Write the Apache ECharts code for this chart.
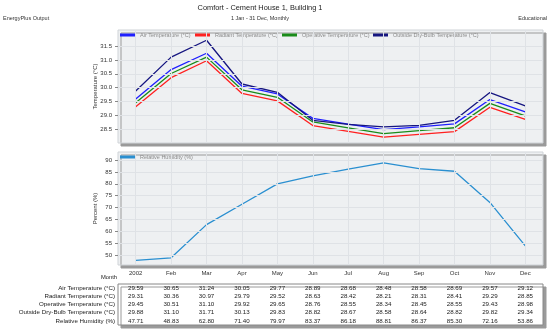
<!DOCTYPE html>
<html><head><meta charset="utf-8">
<script src="https://cdn.jsdelivr.net/npm/echarts@6/dist/echarts.min.js"></script>
<style>html,body{margin:0;padding:0;background:#fff}#c{width:550px;height:336px}</style>
</head><body><div id="c"></div>
<script>
const months = ['2002','Feb','Mar','Apr','May','Jun','Jul','Aug','Sep','Oct','Nov','Dec'];
const airTemp = [29.59,30.65,31.24,30.05,29.77,28.89,28.68,28.48,28.58,28.69,29.57,29.12];
const radiantTemp = [29.31,30.36,30.97,29.79,29.52,28.63,28.42,28.21,28.31,28.41,29.29,28.85];
const operativeTemp = [29.45,30.51,31.10,29.92,29.65,28.76,28.55,28.34,28.45,28.55,29.43,28.98];
const outsideTemp = [29.88,31.10,31.71,30.13,29.83,28.82,28.67,28.58,28.64,28.82,29.82,29.34];
const relHumidity = [47.71,48.83,62.80,71.40,79.97,83.37,86.18,88.81,86.37,85.30,72.16,53.86];
const tempTicks = [28.5,29.0,29.5,30.0,30.5,31.0,31.5];
const rhTicks = [50,55,60,65,70,75,80,85,90];
const tempSeriesNames = ['Air Temperature (°C)','Radiant Temperature (°C)','Operative Temperature (°C)','Outside Dry-Bulb Temperature (°C)'];
const rhName = 'Relative Humidity (%)';

const FONT = 'Liberation Sans, Arial, sans-serif';
const tempColors = ['#1f1fff','#ff2020','#1a8c1a','#161680'];
const rhColor = '#2a8fd0';

const tableRows = [
  [tempSeriesNames[0], airTemp],
  [tempSeriesNames[1], radiantTemp],
  [tempSeriesNames[2], operativeTemp],
  [tempSeriesNames[3], outsideTemp],
  [rhName, relHumidity]
];

const gridCommon = {show:true, left:118, width:425, backgroundColor:'#eef0f2', borderColor:'#cfd3d7', borderWidth:1,
  shadowColor:'#9a9a9a', shadowBlur:0, shadowOffsetX:3, shadowOffsetY:3};
const tableTop = 284, tableH = 41;
const grids = [
  Object.assign({}, gridCommon, {top:30, height:113}),
  Object.assign({}, gridCommon, {top:152, height:113}),
  {show:true, left:118, top:tableTop, width:425, height:tableH, backgroundColor:'#ffffff', borderColor:'#888', borderWidth:1,
   shadowColor:'#9a9a9a', shadowBlur:0, shadowOffsetX:3, shadowOffsetY:3}
];

const xAxes = [
  {type:'category', gridIndex:0, data:months, boundaryGap:true, axisLine:{show:false}, axisTick:{show:false}, axisLabel:{show:false}, splitLine:{show:false}},
  {type:'category', gridIndex:1, data:months, boundaryGap:true, axisLine:{show:false}, axisTick:{show:false},
   axisLabel:{show:true, interval:0, fontSize:6, color:'#333', fontFamily:FONT, margin:5}, splitLine:{show:false}}
];
const rowStep = tableH / tableRows.length;
tableRows.forEach((r, i) => {
  const center = tableTop + rowStep * (i + 0.5);
  xAxes.push({type:'category', gridIndex:2, position:'bottom', offset:center - (tableTop + tableH),
    data:r[1].map(v => v.toFixed(2)), boundaryGap:true,
    axisLine:{show:false}, axisTick:{show:false}, splitLine:{show:false},
    axisLabel:{show:true, interval:0, fontSize:6.2, color:'#222', fontFamily:FONT, margin:0, verticalAlign:'middle'}});
});

const yAxes = [
  {type:'value', gridIndex:0, min:28, max:32.08,
   axisLine:{show:false}, axisTick:{show:true, length:3, customValues:tempTicks, lineStyle:{color:'#888'}},
   axisLabel:{fontSize:6, color:'#333', fontFamily:FONT, margin:6, customValues:tempTicks, formatter: v => v.toFixed(1)},
   splitLine:{show:false},
   name:'Temperature (°C)', nameLocation:'middle', nameGap:20, nameMoveOverlap:false,
   nameTextStyle:{fontSize:6, color:'#333', fontFamily:FONT}},
  {type:'value', gridIndex:1, min:45.8, max:93.4,
   axisLine:{show:false}, axisTick:{show:true, length:3, customValues:rhTicks, lineStyle:{color:'#888'}},
   axisLabel:{fontSize:6, color:'#333', fontFamily:FONT, margin:6, customValues:rhTicks, formatter: v => String(v)},
   splitLine:{show:false},
   name:'Percent (%)', nameLocation:'middle', nameGap:20, nameMoveOverlap:false,
   nameTextStyle:{fontSize:6, color:'#333', fontFamily:FONT}},
  {type:'category', gridIndex:2, inverse:true, data:tableRows.map(r => r[0]), boundaryGap:true,
   axisLine:{show:false}, axisTick:{show:false}, splitLine:{show:false},
   axisLabel:{show:true, interval:0, fontSize:6.2, color:'#222', fontFamily:FONT, margin:3}}
];

function gridLines(xi, yi, ticks) {
  return {type:'line', xAxisIndex:xi, yAxisIndex:yi, data:months.map(() => null), z:1, silent:true,
    markLine:{silent:true, symbol:'none', animation:false, label:{show:false},
      lineStyle:{color:'#dfe2e6', width:1, type:'solid'},
      data:months.map(m => ({xAxis:m})).concat(ticks.map(t => ({yAxis:t})))}};
}

const tempData = [airTemp, radiantTemp, operativeTemp, outsideTemp];
const series = [gridLines(0,0,tempTicks), gridLines(1,1,rhTicks)];
tempData.forEach((d, i) => {
  series.push({type:'line', name:tempSeriesNames[i], xAxisIndex:0, yAxisIndex:0, data:d, symbol:'none',
    lineStyle:{width:1.3, color:tempColors[i]}, itemStyle:{color:tempColors[i]}, animation:false, z:3});
});
series.push({type:'line', name:rhName, xAxisIndex:1, yAxisIndex:1, data:relHumidity, symbol:'none',
  lineStyle:{width:1.3, color:rhColor}, itemStyle:{color:rhColor}, animation:false, z:3});

const legendCommon = {orient:'horizontal', itemWidth:15, itemHeight:3, itemGap:8, icon:'rect', selectedMode:false,
  padding:0, textStyle:{fontSize:5.5, color:'#8a8a8a', fontFamily:FONT}};
const legendLefts = [120, 195, 282, 373];
const legends = tempSeriesNames.map((n, i) => Object.assign({}, legendCommon, {left:legendLefts[i], top:32, data:[n]}));
legends.push(Object.assign({}, legendCommon, {left:120, top:154, data:[rhName]}));

const option = {
  animation:false,
  backgroundColor:'#ffffff',
  grid:grids,
  xAxis:xAxes,
  yAxis:yAxes,
  legend:legends,
  series:series,
  graphic:[
    {type:'text', x:260, y:7.5, style:{text:'Comfort - Cement House 1, Building 1', font:'7.4px '+FONT, fill:'#222', align:'center', verticalAlign:'middle'}},
    {type:'text', x:260, y:18.3, style:{text:'1 Jan - 31 Dec, Monthly', font:'5.5px '+FONT, fill:'#333', align:'center', verticalAlign:'middle'}},
    {type:'text', x:3, y:18.5, style:{text:'EnergyPlus Output', font:'5.5px '+FONT, fill:'#333', align:'left', verticalAlign:'middle'}},
    {type:'text', x:547, y:18.3, style:{text:'Educational', font:'5.5px '+FONT, fill:'#333', align:'right', verticalAlign:'middle'}},
    {type:'text', x:117, y:277, style:{text:'Month', font:'5.8px '+FONT, fill:'#222', align:'right', verticalAlign:'middle'}}
  ]
};
const chart = echarts.init(document.getElementById('c'), null, {renderer:'canvas'});
chart.setOption(option);
</script></body></html>
